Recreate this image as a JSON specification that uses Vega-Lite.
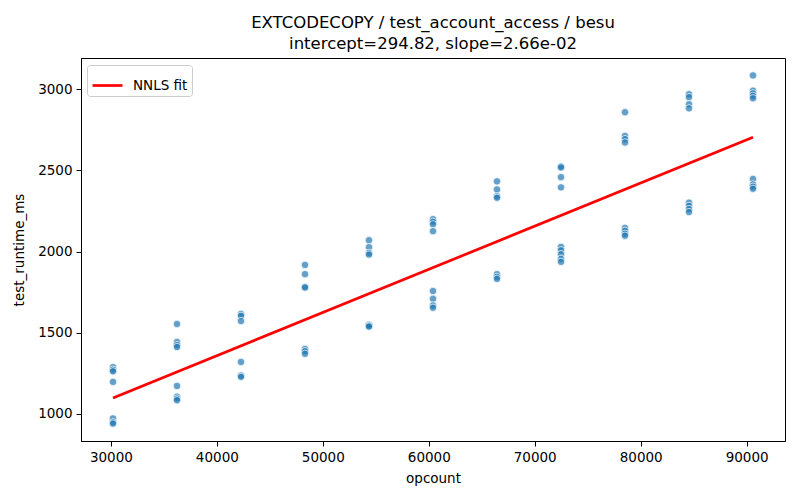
{
  "$schema": "https://vega.github.io/schema/vega-lite/v6.json",
  "width": 704,
  "height": 383,
  "autosize": {"type": "none"},
  "padding": {"left": 81, "top": 58, "right": 15, "bottom": 59},
  "background": "white",
  "title": {
    "text": ["EXTCODECOPY / test_account_access / besu", "intercept=294.82, slope=2.66e-02"],
    "font": "DejaVu Sans",
    "fontSize": 16.5,
    "fontWeight": "normal",
    "color": "black",
    "lineHeight": 21,
    "offset": 6,
    "anchor": "middle"
  },
  "config": {
    "view": {"stroke": "black", "strokeWidth": 1},
    "axis": {
      "grid": false,
      "domainColor": "black",
      "tickColor": "black",
      "tickSize": 5,
      "labelPadding": 4,
      "labelFont": "DejaVu Sans",
      "labelFontSize": 13.5,
      "labelColor": "black",
      "titleFont": "DejaVu Sans",
      "titleFontSize": 13.5,
      "titleFontWeight": "normal",
      "titleColor": "black",
      "titlePadding": 5
    }
  },
  "datasets": {
    "pts": [
      {"opcount": 30200, "runtime": 1288}, {"opcount": 30200, "runtime": 1272}, {"opcount": 30200, "runtime": 1262}, {"opcount": 30200, "runtime": 1197}, {"opcount": 30200, "runtime": 972}, {"opcount": 30200, "runtime": 948}, {"opcount": 30200, "runtime": 940},
      {"opcount": 36240, "runtime": 1554}, {"opcount": 36240, "runtime": 1443}, {"opcount": 36240, "runtime": 1424}, {"opcount": 36240, "runtime": 1412}, {"opcount": 36240, "runtime": 1172}, {"opcount": 36240, "runtime": 1106}, {"opcount": 36240, "runtime": 1094}, {"opcount": 36240, "runtime": 1084},
      {"opcount": 42280, "runtime": 1616}, {"opcount": 42280, "runtime": 1604}, {"opcount": 42280, "runtime": 1572}, {"opcount": 42280, "runtime": 1320}, {"opcount": 42280, "runtime": 1236}, {"opcount": 42280, "runtime": 1228},
      {"opcount": 48320, "runtime": 1918}, {"opcount": 48320, "runtime": 1861}, {"opcount": 48320, "runtime": 1782}, {"opcount": 48320, "runtime": 1779}, {"opcount": 48320, "runtime": 1400}, {"opcount": 48320, "runtime": 1386}, {"opcount": 48320, "runtime": 1370},
      {"opcount": 54360, "runtime": 2070}, {"opcount": 54360, "runtime": 2027}, {"opcount": 54360, "runtime": 1992}, {"opcount": 54360, "runtime": 1982}, {"opcount": 54360, "runtime": 1549}, {"opcount": 54360, "runtime": 1543}, {"opcount": 54360, "runtime": 1538},
      {"opcount": 60400, "runtime": 2200}, {"opcount": 60400, "runtime": 2184}, {"opcount": 60400, "runtime": 2168}, {"opcount": 60400, "runtime": 2126}, {"opcount": 60400, "runtime": 1757}, {"opcount": 60400, "runtime": 1709}, {"opcount": 60400, "runtime": 1668}, {"opcount": 60400, "runtime": 1654},
      {"opcount": 66440, "runtime": 2433}, {"opcount": 66440, "runtime": 2383}, {"opcount": 66440, "runtime": 2341}, {"opcount": 66440, "runtime": 2332}, {"opcount": 66440, "runtime": 1861}, {"opcount": 66440, "runtime": 1844}, {"opcount": 66440, "runtime": 1832},
      {"opcount": 72480, "runtime": 2525}, {"opcount": 72480, "runtime": 2519}, {"opcount": 72480, "runtime": 2459}, {"opcount": 72480, "runtime": 2396}, {"opcount": 72480, "runtime": 2029}, {"opcount": 72480, "runtime": 2008}, {"opcount": 72480, "runtime": 1984}, {"opcount": 72480, "runtime": 1955}, {"opcount": 72480, "runtime": 1937},
      {"opcount": 78520, "runtime": 2859}, {"opcount": 78520, "runtime": 2713}, {"opcount": 78520, "runtime": 2693}, {"opcount": 78520, "runtime": 2673}, {"opcount": 78520, "runtime": 2146}, {"opcount": 78520, "runtime": 2128}, {"opcount": 78520, "runtime": 2110}, {"opcount": 78520, "runtime": 2098},
      {"opcount": 84560, "runtime": 2970}, {"opcount": 84560, "runtime": 2952}, {"opcount": 84560, "runtime": 2908}, {"opcount": 84560, "runtime": 2883}, {"opcount": 84560, "runtime": 2302}, {"opcount": 84560, "runtime": 2282}, {"opcount": 84560, "runtime": 2262}, {"opcount": 84560, "runtime": 2244},
      {"opcount": 90600, "runtime": 3086}, {"opcount": 90600, "runtime": 2992}, {"opcount": 90600, "runtime": 2975}, {"opcount": 90600, "runtime": 2960}, {"opcount": 90600, "runtime": 2945}, {"opcount": 90600, "runtime": 2448}, {"opcount": 90600, "runtime": 2414}, {"opcount": 90600, "runtime": 2400}, {"opcount": 90600, "runtime": 2387}
    ],
    "fit": [
      {"opcount": 30200, "runtime": 1098.14, "series": "NNLS fit"},
      {"opcount": 90600, "runtime": 2704.78, "series": "NNLS fit"}
    ]
  },
  "layer": [
    {
      "data": {"name": "pts"},
      "mark": {"type": "point", "shape": "circle", "filled": true, "size": 55, "fill": "#1f77b4", "fillOpacity": 0.7, "stroke": "white", "strokeWidth": 0.7, "strokeOpacity": 1},
      "encoding": {
        "x": {"field": "opcount", "type": "quantitative", "title": "opcount",
              "scale": {"domain": [27180, 93620], "nice": false, "zero": false},
              "axis": {"values": [30000, 40000, 50000, 60000, 70000, 80000, 90000], "format": "d", "titlePadding": 8}},
        "y": {"field": "runtime", "type": "quantitative", "title": "test_runtime_ms",
              "scale": {"domain": [832.7, 3193.3], "nice": false, "zero": false},
              "axis": {"values": [1000, 1500, 2000, 2500, 3000], "format": "d", "titlePadding": 11}}
      }
    },
    {
      "data": {"name": "fit"},
      "mark": {"type": "line", "strokeWidth": 2.7},
      "encoding": {
        "x": {"field": "opcount", "type": "quantitative"},
        "y": {"field": "runtime", "type": "quantitative"},
        "color": {"field": "series", "type": "nominal",
                  "scale": {"range": ["red"]},
                  "legend": {"title": null, "orient": "none", "legendX": 6, "legendY": 7,
                             "symbolType": "stroke", "symbolSize": 900, "symbolStrokeWidth": 2.7,
                             "labelFont": "DejaVu Sans", "labelFontSize": 13.5, "labelColor": "black",
                             "labelOffset": 9, "padding": 4, "fillColor": "white", "strokeColor": "#cccccc",
                             "cornerRadius": 3}}
      }
    }
  ]
}
